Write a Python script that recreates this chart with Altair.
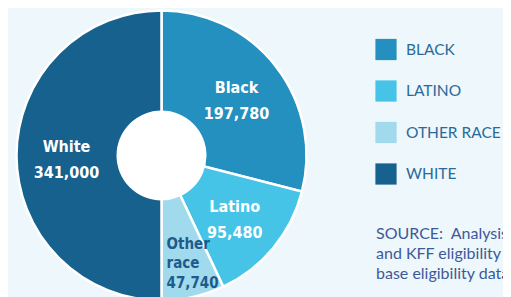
import altair as alt
import pandas as pd

categories = ["Black", "Latino", "Other race", "White"]
counts = [197780, 95480, 47740, 341000]
count_labels = ["197,780", "95,480", "47,740", "341,000"]
colors = ["#2390c0", "#45c4e8", "#a0daec", "#16618e"]
source_lines = ["SOURCE:\u00a0 Analysis", "and KFF eligibility", "base eligibility data"]

inside_white = [c.replace(" ", "\n") + "\n" + l if c != "Other race" else "" for c, l in zip(categories, count_labels)]
inside_dark = [c.replace(" ", "\n") + "\n" + l if c == "Other race" else "" for c, l in zip(categories, count_labels)]

df = pd.DataFrame({
    "cat": categories,
    "n": counts,
    "ord": list(range(len(categories))),
    "wlab": inside_white,
    "dlab": inside_dark,
})

CX, CY = 153.5, 147.5
LABEL_FONT = "DejaVu Sans Condensed, Liberation Sans Narrow, sans-serif"

base = alt.Chart(df).encode(
    theta=alt.Theta("n:Q", stack=True),
    order=alt.Order("ord:Q"),
    x=alt.value(CX),
    y=alt.value(CY),
)

pie = base.mark_arc(radius=145, stroke="white", strokeWidth=2.5).encode(
    color=alt.Color(
        "cat:N",
        scale=alt.Scale(domain=categories, range=colors),
        legend=alt.Legend(
            title=None,
            orient="none",
            legendX=367,
            legendY=30.5,
            symbolType="square",
            symbolSize=450,
            symbolStrokeWidth=0,
            symbolOpacity=1,
            labelFont="Lato",
            labelFontSize=15.5,
            labelColor="#2a6a9a",
            labelOffset=9,
            labelLimit=200,
            rowPadding=19.5,
            padding=0,
            labelExpr="upper(datum.label)",
        ),
    )
)

hole = alt.Chart(pd.DataFrame({"h": [0]})).mark_circle(
    size=90 * 90, color="white", opacity=1
).encode(x=alt.value(CX), y=alt.value(CY))

white_labels = base.mark_text(
    radius=95, dy=-9, font=LABEL_FONT, fontSize=16, fontWeight="bold",
    color="white", lineBreak="\n", lineHeight=26, align="center", baseline="middle",
).encode(text="wlab:N", detail="cat:N")

dark_labels = base.mark_text(
    radius=110, dx=-19, dy=-19, font=LABEL_FONT, fontSize=15, fontWeight="bold",
    color="#1d5b8c", lineBreak="\n", lineHeight=19.5, align="left", baseline="middle",
).encode(text="dlab:N", detail="cat:N")

source = alt.Chart(pd.DataFrame({"t": ["\n".join(source_lines)]})).mark_text(
    align="left", baseline="middle", font="Lato", fontSize=16,
    color="#3d5a99", lineBreak="\n", lineHeight=20,
).encode(text="t:N", x=alt.value(368), y=alt.value(226))

chart = alt.layer(pie, hole, white_labels, dark_labels, source).properties(
    width=495, height=289, background="#eef7fb", padding=0, autosize="none"
).configure_view(stroke=None)

chart.save("out.html", embed_options={"renderer": "svg", "actions": False})
